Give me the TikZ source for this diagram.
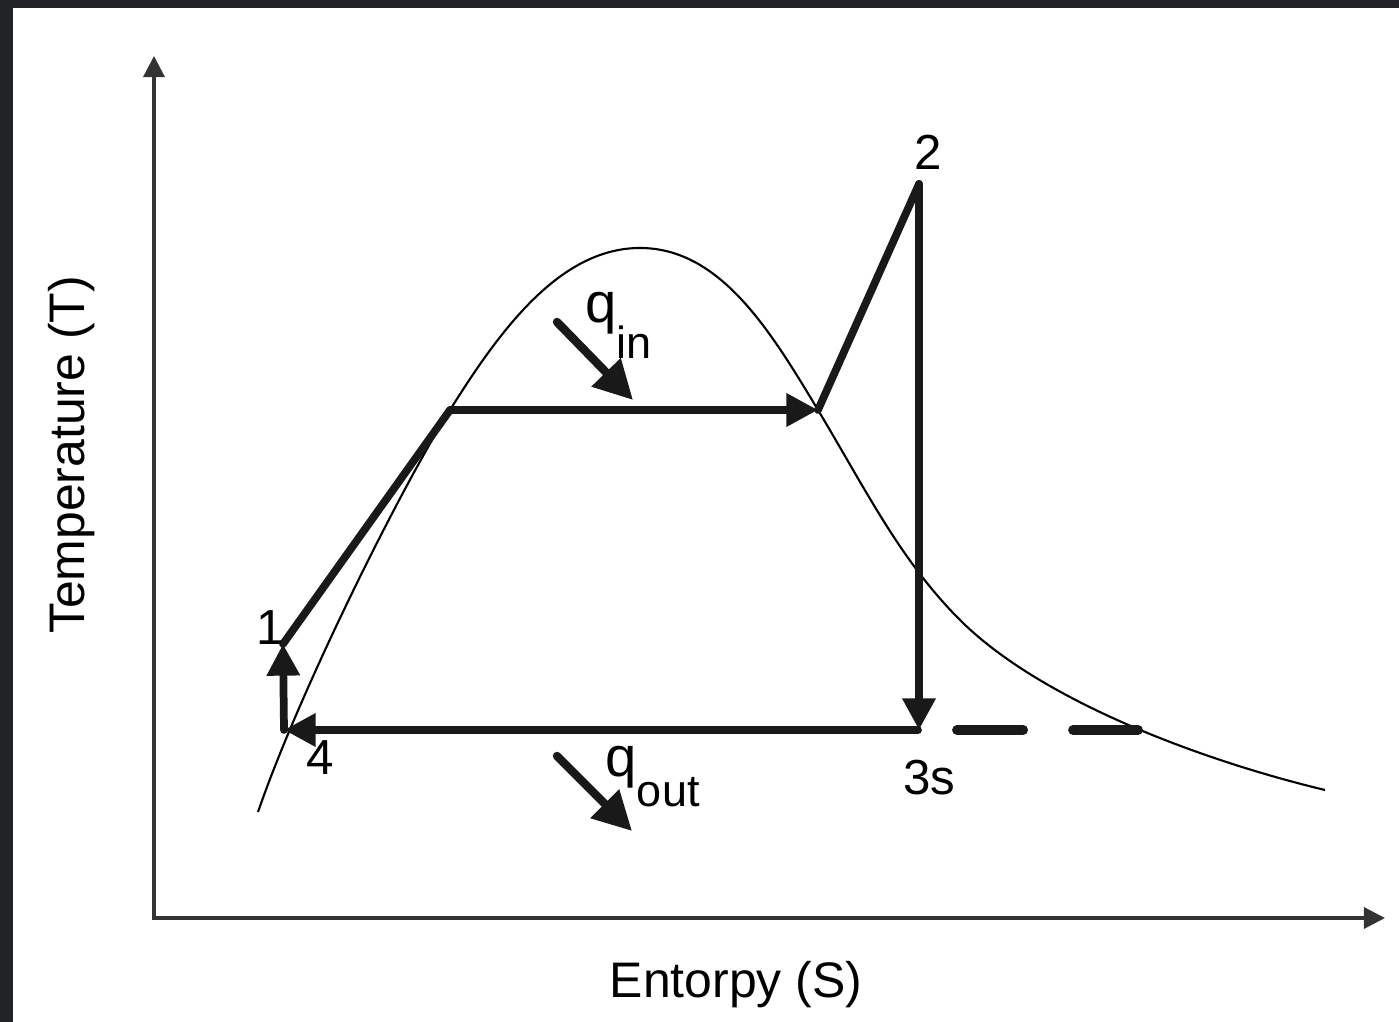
\documentclass[tikz,border=0pt]{standalone}
\usepackage{fontspec}
\setmainfont{Liberation Sans}
\usepackage{xcolor}
\usetikzlibrary{arrows.meta,positioning,calc}
\definecolor{framedark}{HTML}{222327}

\begin{document}
\begin{tikzpicture}[
    x=0.01cm, y=-0.01cm,
    axis/.style={draw=black!80, line width=0.9pt, {Triangle[length=6pt, width=6pt]}-{Triangle[length=6pt, width=6pt]}},
    dome/.style={draw=black, line width=0.6pt},
    process/.style={draw=black!90, line width=2.2pt, line cap=round},
    flow/.style={process, -{Triangle[length=9pt, width=9pt]}},
    dashpart/.style={process, line width=2.8pt, dash pattern=on 18.8pt off 14.2pt},
    heat/.style={draw=black!90, line width=2.4pt, line cap=round, -{Triangle[length=11pt, width=11pt]}},
    state/.style={font=\fontsize{14}{14}\selectfont, inner sep=0pt},
    axislabel/.style={font=\fontsize{14.2}{14.2}\selectfont, inner sep=0pt, anchor=base},
    heatlabel/.style={font=\fontsize{16}{16}\selectfont, inner sep=0pt, anchor=base west}
]
    % frame and page
    \fill [framedark] (0,0) rectangle (1399,1022);
    \fill [white] (13,8) rectangle (1399,1022);
    \useasboundingbox (0,0) rectangle (1399,1022);

    % axes
    \coordinate (origin) at (154,918);
    \coordinate (ytip) at (154,56);
    \coordinate (xtip) at (1385,918);
    \draw [axis] (ytip) -- (origin) -- (xtip);
    \node [axislabel] (xlabel) at (736,998) {Entorpy (S)};
    \node [axislabel, rotate=90] (ylabel) at (84,455) {Temperature (T)};

    % saturation dome
    \draw [dome] (258,812) .. controls (300,690) and (400,490) .. (450,410)
        .. controls (500,330) and (560,248) .. (640,248)
        .. controls (720,248) and (770,330) .. (818,410)
        .. controls (866,490) and (900,560) .. (960,620)
        .. controls (1040,700) and (1200,760) .. (1325,790);

    % cycle states
    \coordinate (s1) at (283,644);
    \coordinate (s4) at (284,730);
    \coordinate (sf) at (450,410);
    \coordinate (sg) at (818,410);
    \coordinate (s2) at (919,184);
    \coordinate (s3) at (918,730);
    \coordinate (dashstart) at (957,730);
    \coordinate (dashend) at (1138,730);

    \draw [process] (s1) -- (sf);
    \draw [flow] (sf) -- (sg);
    \draw [process] (sg) -- (s2);
    \draw [flow] (s2) -- (s3 -| s2);
    \draw [flow] (s3) -- (s4);
    \draw [flow] (s4) -- (s1);
    \draw [dashpart] (dashstart) -- (dashend);

    \node [state] (lbl1) at (270,628) {1};
    \node [state] (lbl2) at (928,152) {2};
    \node [state] (lbl4) at (320,758) {4};
    \node [state] (lbl3s) at (929,778) {3s};

    % heat in / out
    \coordinate (qinfrom) at (557,322);
    \coordinate (qinto) at (633,400);
    \coordinate (qoutfrom) at (557,756);
    \coordinate (qoutto) at (632,831);
    \draw [heat] (qinfrom) -- (qinto);
    \draw [heat] (qoutfrom) -- (qoutto);
    \node [heatlabel] (qin) at (585,323) {q\raisebox{-10pt}{\fontsize{12.8}{12.8}\selectfont in}};
    \node [heatlabel] (qout) at (605,777) {q\raisebox{-8.5pt}{\fontsize{12.8}{12.8}\selectfont out}};
\end{tikzpicture}
\end{document}
